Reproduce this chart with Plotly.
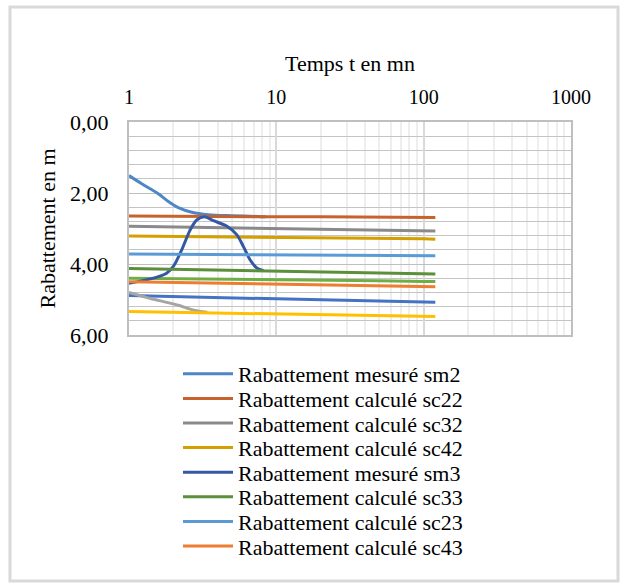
import plotly.graph_objects as go

# ---- data ----
t_calc = [1, 2, 5, 10, 20, 50, 100, 120]

t_sm2 = [1, 1.22, 1.58, 1.85, 2.16, 2.67, 3.46, 4.99, 7.5, 8.5]
sm2 = [1.51, 1.74, 2.02, 2.24, 2.41, 2.54, 2.61, 2.64, 2.66, 2.67]

sc22 = [2.65, 2.66, 2.66, 2.67, 2.67, 2.68, 2.69, 2.69]
sc32 = [2.94, 2.96, 2.98, 3.00, 3.02, 3.05, 3.07, 3.07]
sc42 = [3.21, 3.22, 3.24, 3.25, 3.27, 3.28, 3.29, 3.30]

t_sm3 = [1, 1.4, 1.8, 2.0, 2.28, 2.6, 2.88, 3.25, 3.74, 4.6, 5.4, 5.98, 6.63, 7.4, 8.2]
sm3 = [4.54, 4.42, 4.26, 4.07, 3.60, 3.04, 2.76, 2.67, 2.78, 2.93, 3.18, 3.51, 3.88, 4.12, 4.19]

sc33 = [4.13, 4.15, 4.18, 4.20, 4.22, 4.25, 4.27, 4.28]
sc23 = [3.72, 3.73, 3.74, 3.74, 3.75, 3.76, 3.77, 3.77]
sc43 = [4.50, 4.52, 4.55, 4.57, 4.59, 4.61, 4.63, 4.64]

# series drawn but not listed in the legend
t_extra_meas = [1, 1.4, 1.8, 2.2, 2.6, 3.0, 3.4]
extra_meas = [4.80, 4.97, 5.08, 5.17, 5.27, 5.33, 5.36]
extra_blue = [4.89, 4.92, 4.95, 4.98, 5.01, 5.05, 5.07, 5.08]
extra_green = [4.40, 4.41, 4.43, 4.44, 4.46, 4.47, 4.49, 4.49]
extra_yellow = [5.34, 5.36, 5.39, 5.41, 5.43, 5.45, 5.47, 5.48]

x_tick_vals = [1, 10, 100, 1000]
x_tick_labels = ["1", "10", "100", "1000"]
y_tick_vals = [0, 2, 4, 6]
y_tick_labels = ["0,00", "2,00", "4,00", "6,00"]

FONT = "Liberation Serif, Times New Roman, serif"

W, H = 621, 583
PL, PR, PT, PB = 129, 571, 122, 335   # plot area in pixels
PW, PH = PR - PL, PB - PT

def px_to_paper_x(px):
    return (px - PL) / PW

def px_to_paper_y(py):
    return (PB - py) / PH

fig = go.Figure()
legend_layouts = {}
legend_count = [0]

def add(x, y, name, color, legend=True, smooth=False):
    kw = {}
    if legend:
        i = legend_count[0]
        legend_count[0] += 1
        key = "legend" if i == 0 else f"legend{i + 1}"
        kw["legend"] = key
        legend_layouts[key] = dict(
            x=px_to_paper_x(178), y=px_to_paper_y(374 + i * 24.6),
            xanchor="left", yanchor="middle",
            font=dict(family=FONT, size=22, color="black"),
            bgcolor="rgba(0,0,0,0)", itemwidth=50,
        )
    fig.add_trace(go.Scatter(
        x=x, y=y, name=name, mode="lines", showlegend=legend,
        line=dict(color=color, width=3, shape="spline" if smooth else "linear",
                  smoothing=0.8),
        **kw,
    ))

# series not listed in the legend first (drawn underneath)
add(t_calc, extra_green, "Rabattement calculé sc44", "#70AD47", legend=False)
add(t_calc, extra_blue, "Rabattement calculé sc24", "#4472C4", legend=False)
add(t_extra_meas, extra_meas, "Rabattement mesuré sm4", "#A5A5A5", legend=False, smooth=True)
add(t_calc, extra_yellow, "Rabattement calculé sc34", "#FFC000", legend=False)

add(t_sm2, sm2, "Rabattement mesuré sm2", "#4E86C6", smooth=True)
add(t_calc, sc22, "Rabattement calculé sc22", "#C8612B")
add(t_calc, sc32, "Rabattement calculé sc32", "#8A8A8A")
add(t_calc, sc42, "Rabattement calculé sc42", "#D4A000")
add(t_sm3, sm3, "Rabattement mesuré sm3", "#3458A4", smooth=True)
add(t_calc, sc33, "Rabattement calculé sc33", "#5B8F3A")
add(t_calc, sc23, "Rabattement calculé sc23", "#5B9BD5")
add(t_calc, sc43, "Rabattement calculé sc43", "#ED7D31")

fig.update_layout(
    width=W, height=H,
    margin=dict(l=PL, r=W - PR, t=PT, b=H - PB),
    paper_bgcolor="white", plot_bgcolor="white",
    font=dict(family=FONT, size=20, color="black"),
    showlegend=True,
    xaxis=dict(
        type="log", side="top", range=[0, 3], autorange=False,
        tickvals=x_tick_vals, ticktext=x_tick_labels,
        showgrid=True, gridcolor="#D9D9D9", gridwidth=2,
        minor=dict(dtick="D1", showgrid=True, gridcolor="#EEEEEE", gridwidth=2, ticks=""),
        showline=True, linecolor="#BFBFBF", linewidth=2, mirror=True,
        ticks="", ticklabelstandoff=8,
        zeroline=False,
        title=dict(text="Temps t en mn", standoff=8,
                   font=dict(family=FONT, size=22, color="black")),
        tickfont=dict(family=FONT, size=20, color="black"),
    ),
    yaxis=dict(
        range=[6, 0], autorange=False,
        tickvals=y_tick_vals, ticktext=y_tick_labels,
        showgrid=True, gridcolor="#BFBFBF", gridwidth=1,
        minor=dict(dtick=0.4, showgrid=True, gridcolor="#C4C4C4", gridwidth=1, ticks=""),
        showline=True, linecolor="#BFBFBF", linewidth=2, mirror=True,
        ticks="", ticklabelstandoff=14, zeroline=False,
        title=dict(text="Rabattement en m", standoff=8,
                   font=dict(family=FONT, size=22, color="black")),
        tickfont=dict(family=FONT, size=22, color="black"),
    ),
    shapes=[dict(
        type="rect", xref="paper", yref="paper",
        x0=px_to_paper_x(10), x1=px_to_paper_x(618),
        y0=px_to_paper_y(581), y1=px_to_paper_y(7),
        line=dict(color="#D9D9D9", width=3), fillcolor="rgba(0,0,0,0)",
        layer="below",
    )],
    **legend_layouts,
)

fig.write_html(
    "out.html",
    config={"displayModeBar": False},
    post_script="document.body.style.margin='0';",
)
